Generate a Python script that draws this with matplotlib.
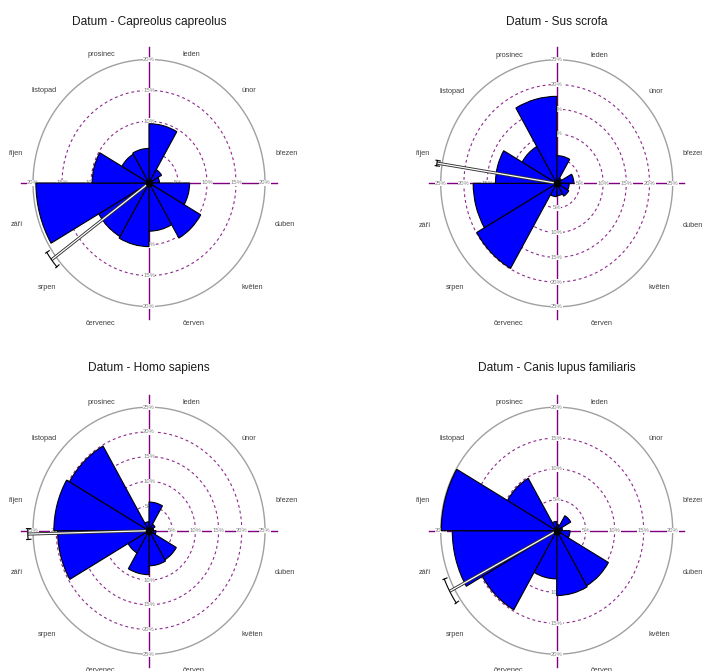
import numpy as np
import matplotlib
matplotlib.use('Agg')
import matplotlib.pyplot as plt
from matplotlib.patches import Wedge

plt.rcParams['font.family'] = ['Liberation Sans', 'DejaVu Sans']

months = ['leden', 'únor', 'březen', 'duben', 'květen', 'červen',
          'červenec', 'srpen', 'září', 'říjen', 'listopad', 'prosinec']

titles = ['Datum - Capreolus capreolus', 'Datum - Sus scrofa',
          'Datum - Homo sapiens', 'Datum - Canis lupus familiaris']

# percent of records per month
capreolus = [9.6, 2.5, 1.8, 7.0, 10.3, 7.8, 10.3, 10.0, 19.5, 9.8, 5.4, 5.6]
sus = [5.6, 1.2, 3.7, 2.7, 3.0, 2.5, 2.7, 19.9, 18.0, 13.2, 8.6, 17.6]
homo = [5.8, 1.5, 1.0, 1.5, 6.8, 7.1, 8.9, 5.2, 19.7, 20.5, 19.8, 1.8]
canis = [1.0, 2.8, 1.0, 2.3, 10.3, 10.5, 7.8, 14.8, 18.0, 19.9, 9.8, 1.5]

# mean direction and 95% confidence half-width (degrees, clockwise from north)
means = [233.5, 279.0, 268.5, 242.0]
ci = [4.0, 1.2, 2.4, 6.0]

# scale rings (%)
rings = [[5, 10, 15, 20], [5, 10, 15, 20, 25], [5, 10, 15, 20, 25], [5, 10, 15, 20]]

FW, FH = 702, 671
fig = plt.figure(figsize=(FW / 100, FH / 100), dpi=100)

PURPLE = '#800080'
centers = [(149, 183), (556.7, 183.3), (149, 530.7), (556.7, 530.7)]
title_y = [21.7, 21.7, 368, 368]
RX, RY = 116, 123.5   # pixel radius of the outer circle
W, H = 165, 168


def compass(theta, r):
    t = np.radians(theta)
    return r * np.sin(t), r * np.cos(t)


def rose(ax, values, ring, mean, half):
    outer = ring[-1]
    t = np.linspace(0, 2 * np.pi, 400)
    # dashed inner rings + solid outer circle
    for rv in ring[:-1]:
        ax.plot(rv * np.cos(t), rv * np.sin(t), color='#8e2a8e', lw=0.8,
                ls=(0, (2.6, 2.6)), zorder=1)
    ax.plot(outer * np.cos(t), outer * np.sin(t), color='#a0a0a0', lw=1.0, zorder=1)
    # axis cross
    ax.plot([-1.1 * outer, 1.1 * outer], [0, 0], color=PURPLE, lw=1.0, zorder=1)
    ax.plot([0, 0], [-1.1 * outer, 1.1 * outer], color=PURPLE, lw=1.0, zorder=1)
    # ring labels
    for rv in ring:
        for (x, y) in [(0, rv), (0, -rv), (rv, 0), (-rv, 0)]:
            ax.text(x, y, '%d%%' % rv, fontsize=4.2, color='#808080',
                    ha='center', va='center', zorder=2,
                    bbox=dict(boxstyle='square,pad=0.05', fc='white', ec='none'))
    # bars
    for k, v in enumerate(values):
        w = Wedge((0, 0), v, 90 - 30 * (k + 1), 90 - 30 * k,
                  facecolor='#0000ff', edgecolor='black', lw=0.8, zorder=3)
        ax.add_patch(w)
    # mean vector with confidence bracket
    rb = 1.045 * outer
    x1, y1 = compass(mean, rb)
    ax.plot([0, x1], [0, y1], color='#303030', lw=2.2, zorder=4, solid_capstyle='butt')
    ax.plot([0, x1], [0, y1], color='white', lw=0.9, zorder=4, solid_capstyle='butt')
    a = np.linspace(mean - half, mean + half, 30)
    bx, by = compass(a, rb)
    ax.plot(bx, by, color='black', lw=0.8, zorder=4)
    for e in [mean - half, mean + half]:
        tx, ty = compass(e, np.array([rb - 0.025 * outer, rb + 0.012 * outer]))
        ax.plot(tx, ty, color='black', lw=0.8, zorder=4)
    ax.plot(0, 0, 'o', color='black', ms=4.5, zorder=5)
    # month labels
    for k, m in enumerate(months):
        ang = 15 + 30 * k
        x, y = compass(ang, 1.125 * outer)
        ha = 'left' if k < 6 else 'right'
        ax.annotate(m, xy=(x, y), xytext=(0, -4.3), textcoords='offset points',
                    fontsize=5.3, color='#404040', ha=ha, va='center', zorder=6)


data = [capreolus, sus, homo, canis]
for i in range(4):
    cx, cy = centers[i]
    ax = fig.add_axes([(cx - W) / FW, 1 - (cy + H) / FH, 2 * W / FW, 2 * H / FH])
    outer = rings[i][-1]
    sx = RX / outer
    sy = RY / outer
    ax.set_xlim(-W / sx, W / sx)
    ax.set_ylim(-H / sy, H / sy)
    ax.axis('off')
    ax.patch.set_alpha(0)
    rose(ax, data[i], rings[i], means[i], ci[i])
    for art in ax.get_children():
        art.set_clip_on(False)
    fig.text(cx / FW, 1 - title_y[i] / FH, titles[i], fontsize=8.6,
             color='#1a1a1a', ha='center', va='center')

fig.savefig('out.png', dpi=100)
